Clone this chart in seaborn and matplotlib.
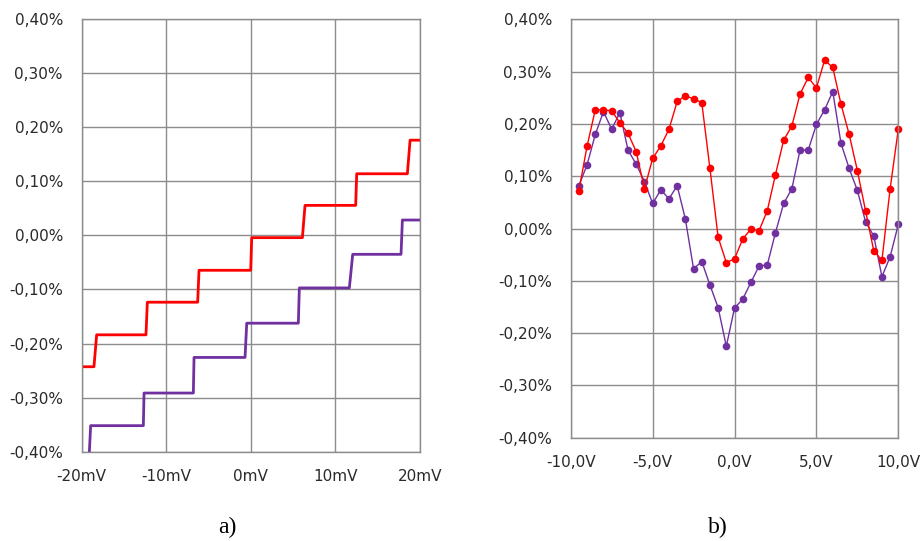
import numpy as np
import pandas as pd
import matplotlib
matplotlib.use("Agg")
import matplotlib.pyplot as plt
from matplotlib.ticker import FuncFormatter, FixedLocator
import seaborn as sns

# ---------------- data: panel a) (staircase, mV vs %) ----------------
red_a_start = [-20.0, -18.23, -12.24, -6.13, 0.10, 6.40, 12.51, 18.82]
red_a_end   = [-18.55, -12.40, -6.29, -0.02, 6.09, 12.39, 18.50, 20.0]
red_a_level = [-0.2429, -0.1839, -0.1236, -0.0646, -0.0043, 0.0554, 0.1138, 0.1759]

pur_a_start = [-20.0, -18.94, -12.63, -6.72, -0.49, 5.73, 12.04, 17.91]
pur_a_end   = [-19.14, -12.71, -6.80, -0.69, 5.61, 11.64, 17.75, 20.0]
pur_a_level = [-0.415, -0.3518, -0.2915, -0.2257, -0.1624, -0.0972, -0.0351, 0.0283]

# ---------------- data: panel b) (V vs %) ----------------
volts_b = [-9.5, -9.0, -8.5, -8.0, -7.5, -7.0, -6.5, -6.0, -5.5, -5.0,
           -4.5, -4.0, -3.5, -3.0, -2.5, -2.0, -1.5, -1.0, -0.5, 0.0,
           0.5, 1.0, 1.5, 2.0, 2.5, 3.0, 3.5, 4.0, 4.5, 5.0,
           5.5, 6.0, 6.5, 7.0, 7.5, 8.0, 8.5, 9.0, 9.5, 10.0]
red_b = [0.0725, 0.158, 0.227, 0.227, 0.225, 0.2025, 0.182, 0.147, 0.0757, 0.134,
         0.158, 0.190, 0.243, 0.254, 0.248, 0.241, 0.115, -0.0167, -0.065, -0.058,
         -0.020, -0.001, -0.004, 0.034, 0.103, 0.169, 0.196, 0.257, 0.289, 0.269,
         0.322, 0.308, 0.238, 0.180, 0.111, 0.034, -0.042, -0.061, 0.076, 0.190]
pur_b = [0.082, 0.122, 0.180, 0.2235, 0.190, 0.2216, 0.150, 0.123, 0.090, 0.048,
         0.074, 0.057, 0.082, 0.018, -0.077, -0.063, -0.108, -0.151, -0.225, -0.152,
         -0.135, -0.103, -0.0715, -0.0696, -0.008, 0.048, 0.076, 0.150, 0.150, 0.199,
         0.227, 0.262, 0.163, 0.115, 0.073, 0.013, -0.014, -0.092, -0.054, 0.008]

xticks_a = [-20, -10, 0, 10, 20]
xticklabels_a = ["-20mV", "-10mV", "0mV", "10mV", "20mV"]
xticks_b = [-10, -5, 0, 5, 10]
xticklabels_b = ["-10,0V", "-5,0V", "0,0V", "5,0V", "10,0V"]
yticks = [-0.4, -0.3, -0.2, -0.1, 0.0, 0.1, 0.2, 0.3, 0.4]
panel_labels = ["a)", "b)"]

RED = "#FF0000"
PURPLE = "#7030A0"
GRID = "#8c8c8c"
TXT = "#2a2a2a"

sns.set_style("white")
plt.rcParams["font.family"] = ["DejaVu Sans"]


def stair_points(starts, ends, levels):
    xs, ys = [], []
    for s, e, l in zip(starts, ends, levels):
        xs += [s, e]
        ys += [l, l]
    return pd.DataFrame({"x": xs, "y": ys})


fig = plt.figure(figsize=(9.22, 5.41), dpi=100)
ax_a = fig.add_axes([0.0886, 0.165, 0.367, 0.800])
ax_b = fig.add_axes([0.619, 0.1908, 0.3553, 0.7734])

df_red_a = stair_points(red_a_start, red_a_end, red_a_level)
df_pur_a = stair_points(pur_a_start, pur_a_end, pur_a_level)
sns.lineplot(data=df_red_a, x="x", y="y", sort=False, estimator=None,
             color=RED, linewidth=2.0, ax=ax_a)
sns.lineplot(data=df_pur_a, x="x", y="y", sort=False, estimator=None,
             color=PURPLE, linewidth=2.0, ax=ax_a)

df_b = pd.DataFrame({"v": volts_b, "red": red_b, "pur": pur_b})
sns.lineplot(data=df_b, x="v", y="pur", sort=False, estimator=None,
             color=PURPLE, linewidth=1.0, marker="o", markersize=5.5,
             markeredgewidth=0, clip_on=False, ax=ax_b)
sns.lineplot(data=df_b, x="v", y="red", sort=False, estimator=None,
             color=RED, linewidth=1.0, marker="o", markersize=5.5,
             markeredgewidth=0, clip_on=False, ax=ax_b)

pct_fmt = FuncFormatter(lambda v, p: ("%.2f%%" % v).replace(".", ",").replace("-0,00", "0,00"))

for ax, xt, xtl, xl in [(ax_a, xticks_a, xticklabels_a, (-20, 20)),
                        (ax_b, xticks_b, xticklabels_b, (-10, 10))]:
    ax.set_xlim(*xl)
    ax.set_ylim(-0.4, 0.4)
    ax.xaxis.set_major_locator(FixedLocator(xt))
    ax.set_xticklabels(xtl)
    ax.yaxis.set_major_locator(FixedLocator(yticks))
    ax.yaxis.set_major_formatter(pct_fmt)
    ax.grid(True, color=GRID, linewidth=1.0)
    ax.set_axisbelow(True)
    for s in ax.spines.values():
        s.set_color(GRID)
        s.set_linewidth(1.0)
    ax.tick_params(axis="both", direction="out", length=4.5, width=1.0,
                   color=GRID, labelcolor=TXT, labelsize=11)
    ax.tick_params(axis="x", pad=8)
    ax.tick_params(axis="y", pad=9)
    ax.set_xlabel("")
    ax.set_ylabel("")

fig.text(227 / 922, 1 - 527 / 541, panel_labels[0], ha="center", va="center",
         fontsize=17, family="Liberation Serif", color="black")
fig.text(717.5 / 922, 1 - 527 / 541, panel_labels[1], ha="center", va="center",
         fontsize=17, family="Liberation Serif", color="black")

fig.savefig("out.png", dpi=100, facecolor="white")
